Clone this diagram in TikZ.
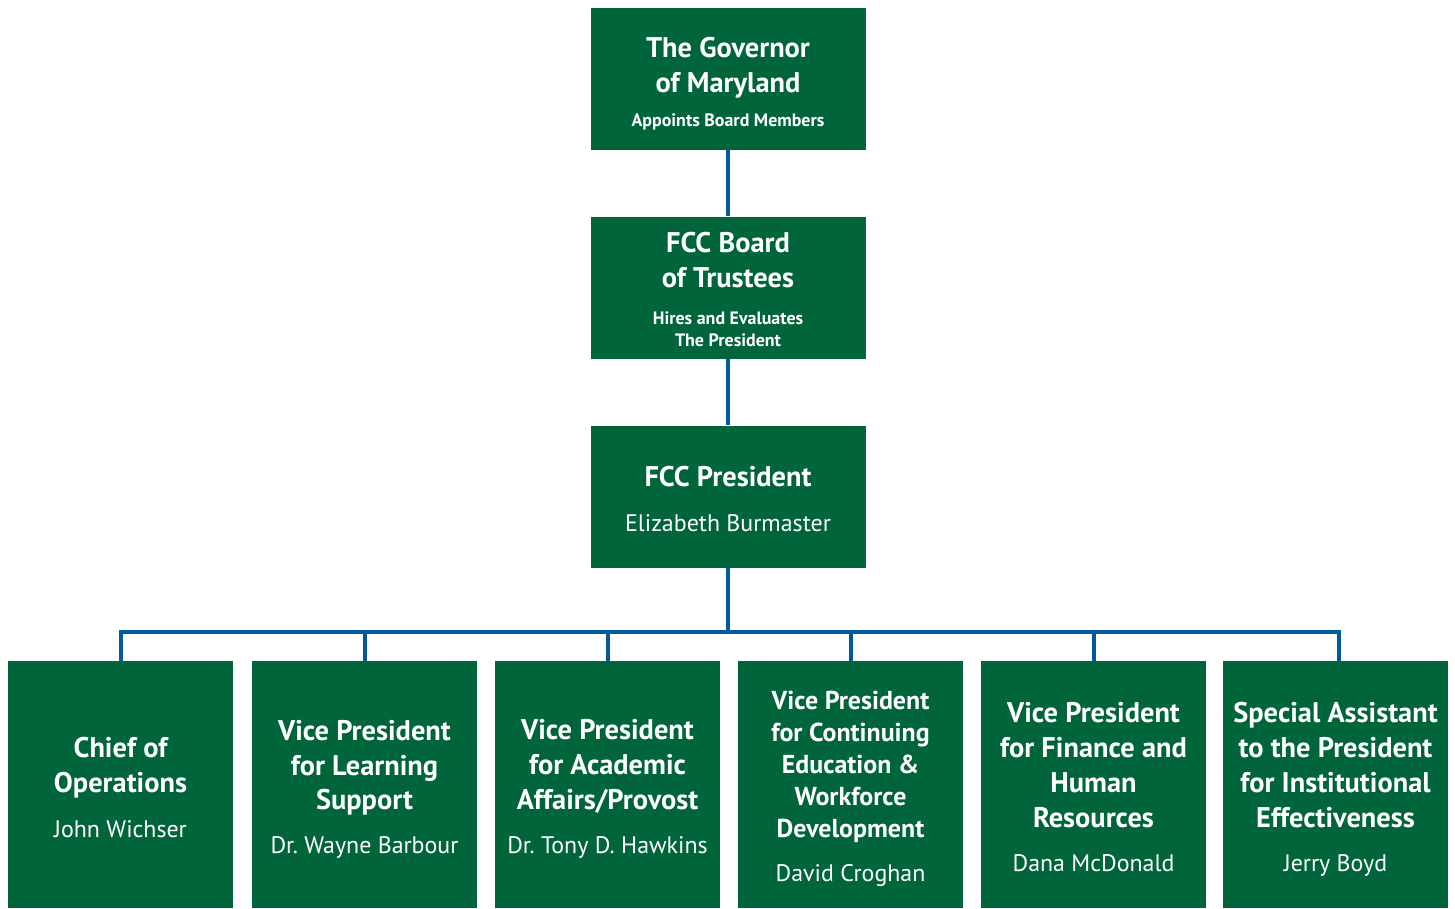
\documentclass[tikz,border=0pt]{standalone}
\usepackage{fontspec}
\setmainfont{PT Sans}
\usepackage{xcolor}
\definecolor{fccgreen}{RGB}{0,101,58}
\definecolor{fccblue}{RGB}{0,90,156}
\newcommand\hd{\fontsize{28.5}{35}\selectfont\bfseries}
\newcommand\hds{\fontsize{26}{32}\selectfont\bfseries}
\newcommand\sub{\fontsize{18}{22}\selectfont\bfseries}
\newcommand\nm{\fontsize{24}{35}\selectfont\mdseries}
\newcommand\lift[1]{\rule{0pt}{#1bp}}
\begin{document}
\begin{tikzpicture}[x=1bp,y=-1bp,
    box/.style={fill=fccgreen,text=white,align=center,inner sep=0pt,
      font=\fontsize{26}{35}\selectfont},
    topbox/.style={box,minimum width=275bp,minimum height=142bp},
    rowbox/.style={box,minimum width=225bp,minimum height=247bp},
    link/.style={draw=fccblue,line width=4bp}]
    \useasboundingbox (0,0) rectangle (1455,908);
    \node[topbox] (gov) at (728,79) {\lift{30}\hd The Governor\\\hd of Maryland\\[-1bp]\sub Appoints Board Members};
    \node[topbox] (board) at (728,287.5) {\lift{24.5}\hd FCC Board\\\hd of Trustees\\[2bp]\sub Hires and Evaluates\\[-13bp]\sub The President};
    \node[topbox] (pres) at (728,496.5) {\lift{25}\hd FCC President\\[10bp]\nm Elizabeth Burmaster};
    \node[rowbox] (chief) at (120.5,784.5) {\lift{26}\hd Chief of\\\hd Operations\\[10bp]\nm John Wichser};
    \node[rowbox] (learn) at (364.5,784.5) {\lift{30}\hd Vice President\\\hd for Learning\\\hd Support\\[9bp]\nm Dr.\ Wayne Barbour};
    \node[rowbox] (acad) at (607.5,784.5) {\lift{29}\hd Vice President\\\hd for Academic\\\hd Affairs/Provost\\[9bp]\nm Dr.\ Tony D.\ Hawkins};
    \node[rowbox] (cont) at (850.5,784.5) {\lift{27}\hds Vice President\\[-3bp]\hds for Continuing\\[-3bp]\hds Education \&\\[-3bp]\hds Workforce\\[-3bp]\hds Development\\[9bp]\nm David Croghan};
    \node[rowbox] (fin) at (1093.5,784.5) {\lift{25}\hd Vice President\\\hd for Finance and\\\hd Human\\\hd Resources\\[9bp]\nm Dana McDonald};
    \node[rowbox] (spec) at (1335.5,784.5) {\lift{30}\hd Special Assistant\\\hd to the President\\\hd for Institutional\\\hd Effectiveness\\[9bp]\nm Jerry Boyd};
    \coordinate (bus) at (728,632);
    \draw[link] (gov) -- (board);
    \draw[link] (board) -- (pres);
    \draw[link] (pres) -- (bus);
    \foreach \n in {chief,learn,acad,cont,fin}
      \draw[link] (bus) -| (\n.north);
    \draw[link] (bus) -| ([xshift=3.5bp]spec.north);
\end{tikzpicture}
\end{document}
